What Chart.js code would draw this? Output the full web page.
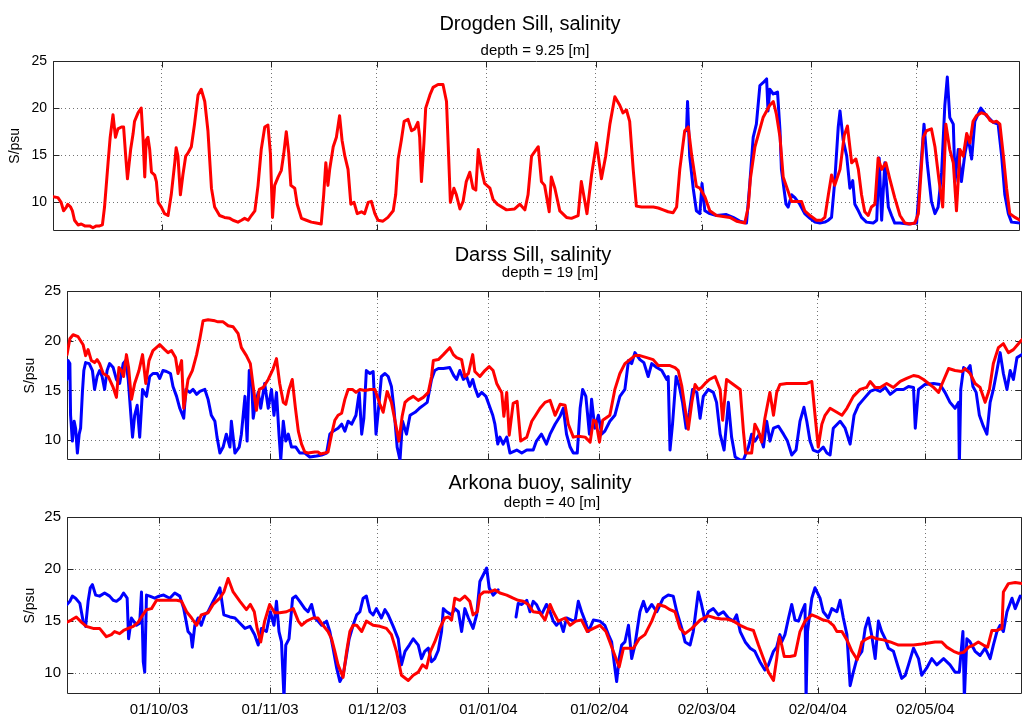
<!DOCTYPE html>
<html>
<head>
<meta charset="utf-8">
<title>Salinity</title>
<script src="https://cdn.jsdelivr.net/npm/chart.js@4/dist/chart.umd.min.js"></script>
<style>
  body { margin: 0; background: #fff; }
  #page { position: relative; width: 1028px; height: 715px; font-family: "Liberation Sans", Arial, sans-serif; color: #000; }
  #page canvas { position: absolute; left: 0; }
  .t, .s { position: absolute; transform: translateX(-50%); white-space: nowrap; z-index: 2; }
  .t { font-size: 20px; line-height: 20px; }
  .s { font-size: 15px; line-height: 15px; }
</style>
</head>
<body>
<div id="page">
  <canvas id="drogden" width="1028" height="245" style="top:0"></canvas>
  <canvas id="darss" width="1028" height="230" style="top:245px"></canvas>
  <canvas id="arkona" width="1028" height="240" style="top:475px"></canvas>
  <div class="t" style="left:530px;top:13px">Drogden Sill, salinity</div>
  <div class="s" style="left:535px;top:42px">depth = 9.25 [m]</div>
  <div class="t" style="left:533px;top:244px">Darss Sill, salinity</div>
  <div class="s" style="left:550px;top:264px">depth = 19 [m]</div>
  <div class="t" style="left:540px;top:472px">Arkona buoy, salinity</div>
  <div class="s" style="left:552px;top:494px">depth = 40 [m]</div>
</div>
<script>
// days counted from 01/09/03
const tickDays = [30, 61, 91, 122, 153, 183, 214, 244];
const tickLabels = ['01/10/03', '01/11/03', '01/12/03', '01/01/04', '01/02/04', '02/03/04', '02/04/04', '02/05/04'];
const salinityTicks = [10, 15, 20, 25];

// Drogden Sill (red = model, blue = observed)
const drogdenModelDay = [-0.8,0.6,1.5,2.2,3.0,3.4,4.2,4.7,5.3,6.3,7.2,8.2,9.6,10.5,11.5,12.4,13.2,13.8,14.8,15.4,16.2,16.9,17.6,18.6,19.2,19.8,20.3,21.2,21.9,22.3,23.3,24.2,24.7,25.2,25.6,26.1,26.6,27.1,28.0,28.5,29.0,29.9,30.8,31.8,32.7,33.7,34.1,34.6,35.3,36.0,36.8,37.4,38.4,39.3,40.3,41.2,42.2,43.1,44.1,45.0,46.4,47.8,49.3,50.2,51.6,52.6,53.5,54.5,55.4,56.4,57.3,58.2,59.2,60.1,60.8,61.4,62.0,63.0,63.9,64.6,65.3,66.0,66.6,67.7,68.4,69.6,71.0,72.4,73.8,75.2,75.9,76.5,77.1,77.6,78.6,79.5,80.4,81.1,81.9,82.8,83.6,84.5,85.4,86.6,87.5,88.5,89.4,90.4,91.3,92.7,94.1,95.6,96.3,97.0,97.9,98.7,99.8,100.8,101.7,102.6,103.1,103.6,104.3,104.8,106.0,106.9,108.3,109.7,110.7,111.2,111.8,112.8,113.5,114.5,115.4,116.3,117.3,118.2,119.0,119.7,120.6,121.5,123.0,123.9,125.1,127.7,130.0,131.5,132.9,133.8,134.8,136.7,137.6,138.5,139.8,140.4,141.4,142.8,144.7,146.1,148.0,148.9,149.9,150.5,151.8,153.2,154.6,155.8,157.0,158.4,159.8,160.7,161.7,162.6,163.6,164.5,166.0,167.4,169.3,170.7,172.1,173.5,174.9,175.9,176.8,178.2,179.2,180.1,181.5,182.5,183.9,185.3,187.2,189.1,191.0,192.9,195.2,196.2,196.8,198.1,200.4,201.4,202.3,203.3,204.2,205.2,206.1,207.0,208.5,209.9,211.3,212.2,213.7,215.5,217.0,217.9,218.9,219.8,220.7,222.2,223.4,224.3,225.5,226.7,227.4,228.3,229.2,230.2,231.1,232.1,233.0,234.0,235.2,236.3,237.7,239.2,240.6,242.0,243.4,244.4,245.8,246.7,248.1,249.1,250.3,251.3,252.2,253.3,254.3,255.2,256.2,257.1,258.1,259.0,259.9,260.9,262.3,263.7,264.7,265.6,266.6,267.5,268.5,269.4,270.3,271.8,273.2];
const drogdenModelSal = [10.6,10.5,10.0,9.1,9.5,9.8,9.5,9.1,8.1,7.6,7.7,7.5,7.5,7.3,7.5,7.5,7.6,9.5,14.2,16.9,19.3,16.9,17.8,18.0,18.0,14.9,12.5,15.6,17.3,18.6,19.5,20.0,16.9,12.7,16.6,16.9,15.6,13.2,12.9,12.2,10.0,9.5,8.8,8.6,10.8,14.2,15.8,14.9,10.8,12.9,14.9,15.2,15.9,18.3,21.4,22.0,20.7,17.6,11.5,9.5,8.6,8.4,8.3,8.1,7.9,8.1,8.3,8.1,8.6,9.1,11.8,15.6,18.0,18.2,15.2,8.4,11.8,12.7,13.4,15.2,17.5,15.2,11.8,11.5,9.8,8.3,8.1,7.9,7.8,7.7,10.8,14.2,11.8,13.5,15.9,16.9,19.2,16.6,14.9,13.5,9.8,10.0,8.8,9.0,8.8,10.0,10.1,8.8,8.1,8.0,8.4,9.1,10.8,14.6,16.6,18.6,18.8,17.6,17.8,18.5,16.9,12.2,16.3,20.0,21.4,22.2,22.5,22.5,20.7,15.9,10.0,11.5,10.8,9.3,10.1,12.2,13.2,11.5,11.3,15.6,13.5,12.0,11.5,10.3,9.8,9.2,9.3,9.8,9.2,10.8,14.9,15.9,12.2,11.8,9.0,12.7,11.5,9.1,8.4,8.3,8.6,12.2,10.1,8.8,12.9,16.3,12.5,14.9,18.3,21.2,20.3,19.5,19.8,18.6,13.5,9.6,9.5,9.5,9.5,9.4,9.2,9.0,8.9,9.5,13.5,17.6,18.0,15.2,11.7,11.5,10.6,9.1,8.6,8.5,8.4,8.0,7.8,9.5,12.5,15.9,19.0,19.7,20.3,20.7,19.3,16.9,12.7,11.7,10.1,10.1,10.1,9.1,8.6,8.1,8.1,8.4,10.8,12.9,11.8,13.5,17.1,18.1,14.2,14.6,13.5,10.8,9.0,8.6,9.5,9.8,14.7,13.5,14.2,12.5,10.5,8.6,7.8,7.7,7.8,8.8,16.9,17.6,17.8,15.9,12.2,9.5,18.3,15.6,14.2,9.1,15.6,14.9,17.3,16.3,18.6,19.2,19.5,19.3,18.7,18.5,18.6,18.3,14.9,11.5,8.8,8.4,8.1];
const drogdenObsDay = [178.7,179.0,179.4,179.6,180.6,181.5,182.5,183.1,183.9,185.3,187.2,190.0,191.9,193.8,195.7,196.6,197.6,198.5,199.5,200.4,201.4,201.8,202.3,203.3,204.5,205.2,205.6,206.3,206.9,207.5,208.5,209.4,210.8,212.2,213.7,215.1,216.5,217.9,218.9,219.8,220.7,221.7,222.2,223.1,224.1,225.0,225.8,226.4,227.4,228.3,229.7,231.6,232.6,233.3,234.0,234.9,235.9,236.8,237.7,239.2,241.5,243.9,245.0,246.0,246.9,248.1,249.1,250.0,251.0,251.9,252.6,253.3,254.3,254.8,255.7,256.6,257.6,258.5,259.5,260.4,262.1,263.7,265.6,267.0,268.0,268.9,269.9,270.8,273.2];
const drogdenObsSal = [17.6,20.7,16.9,14.9,11.5,9.1,8.8,12.0,9.1,8.8,8.6,8.7,8.4,8.0,7.8,11.8,16.9,18.3,22.4,22.7,23.1,19.7,22.0,21.5,21.7,17.6,13.5,11.5,9.8,9.5,10.8,10.5,9.8,8.8,8.3,7.9,7.8,7.9,8.1,8.4,12.2,18.0,19.7,16.6,14.9,11.5,12.3,9.8,9.1,8.4,7.9,7.8,8.1,14.7,8.1,14.2,9.5,8.6,7.8,7.8,7.7,7.8,13.2,18.3,14.2,10.1,8.8,9.5,13.2,20.3,23.3,19.0,18.3,12.2,15.6,12.2,15.2,16.9,14.6,18.6,20.0,19.2,18.5,18.3,14.9,10.8,8.8,7.9,7.8];

// Darss Sill
const darssModelDay = [4.3,5.1,6.0,7.4,8.8,9.5,10.2,11.1,12.0,12.7,13.4,14.4,15.8,17.2,18.1,18.8,19.5,20.1,20.9,21.5,22.3,23.2,24.4,25.4,26.3,27.2,28.3,30.2,31.6,32.5,33.5,34.6,35.3,36.3,36.9,38.1,39.3,40.5,41.4,42.3,43.7,45.6,46.5,47.9,49.3,50.7,52.1,53.0,54.4,55.5,56.3,57.2,58.0,59.1,60.5,61.9,62.8,63.7,64.7,65.4,66.3,67.2,68.1,68.9,69.8,70.7,71.6,73.5,74.4,75.1,76.3,77.2,78.2,79.1,80.0,81.0,81.9,82.8,84.0,85.0,86.1,87.5,88.9,90.3,91.7,92.6,93.7,94.9,96.3,97.0,97.9,98.7,99.6,101.0,102.4,103.8,105.2,106.1,106.6,108.0,109.4,111.2,112.2,113.1,114.5,115.4,116.4,117.6,118.2,119.6,121.0,122.2,123.3,124.3,125.2,125.7,126.3,127.1,127.8,128.9,130.0,131.0,132.7,134.1,135.0,136.4,137.8,139.2,140.6,142.0,143.4,144.3,145.7,147.1,149.0,150.4,151.3,152.0,153.0,153.9,155.9,157.3,158.7,160.1,161.5,162.9,164.3,166.2,168.0,169.4,170.8,172.7,174.1,175.0,176.0,176.9,177.8,178.8,179.7,180.6,181.5,182.5,183.7,185.3,186.7,187.4,188.5,190.4,192.3,193.2,193.8,195.5,196.4,197.4,198.3,199.2,200.6,201.6,202.5,203.4,205.3,207.2,209.0,210.9,212.3,213.2,214.1,215.1,216.0,217.4,219.3,220.7,222.1,223.9,225.8,227.6,228.6,230.0,231.4,233.2,235.1,237.0,238.8,240.7,242.1,243.5,244.9,246.3,247.7,248.6,250.5,252.3,254.2,255.1,256.5,257.9,259.3,260.7,261.9,263.0,264.4,265.8,267.2,268.6,270.0,271.0];
const darssModelSal = [18.6,20.2,20.6,20.4,19.6,18.5,19.1,18.0,17.8,18.1,17.7,16.7,16.4,15.3,14.3,17.3,17.0,16.4,18.6,17.3,14.1,15.7,17.0,18.6,15.7,18.0,19.0,19.6,19.1,18.8,19.0,18.3,16.7,18.0,13.2,16.1,17.0,18.6,20.2,22.0,22.1,22.0,21.9,21.9,21.5,21.4,20.7,19.3,18.5,17.7,15.4,13.0,15.1,15.3,16.1,17.2,18.2,15.7,13.8,13.6,15.1,16.1,13.2,10.9,9.6,8.8,8.7,8.8,8.8,8.6,8.7,8.8,10.6,12.0,12.5,12.7,14.1,15.1,15.1,14.8,15.1,15.0,15.1,15.1,13.6,12.8,14.9,13.8,11.2,9.9,12.4,13.8,14.1,14.4,14.0,14.3,14.8,16.4,18.0,18.1,18.6,19.3,18.6,18.3,18.1,16.4,16.7,18.6,16.9,16.4,17.0,17.4,17.0,15.7,15.1,14.8,12.4,14.8,10.5,13.7,13.9,9.9,10.3,11.9,12.4,13.2,13.8,14.0,12.5,13.6,13.5,11.6,10.3,10.4,10.3,9.8,12.0,11.9,9.8,12.0,12.5,15.1,16.7,17.7,18.1,18.5,18.5,18.3,18.1,17.5,17.5,17.5,17.3,17.0,15.4,13.2,11.1,13.8,15.6,15.1,15.3,15.7,16.1,16.4,15.1,12.0,16.1,15.6,15.1,10.9,8.7,8.7,11.6,10.9,9.8,12.2,14.8,12.5,14.8,15.6,15.7,15.7,15.7,15.7,15.9,12.5,9.3,11.6,12.5,13.2,12.8,12.5,13.2,14.4,15.1,15.3,15.9,15.3,15.3,15.7,15.3,15.9,16.2,16.5,16.4,16.1,15.7,15.3,14.8,15.6,17.2,17.0,16.9,17.2,16.7,15.7,15.3,13.8,15.1,17.7,19.3,19.7,18.8,19.1,19.7,20.1];
const darssObsDay = [4.3,4.6,5.1,5.3,5.8,6.3,6.7,7.2,7.7,8.1,8.6,9.0,9.5,10.5,11.4,12.0,12.7,13.4,14.1,14.8,15.5,16.2,17.2,18.1,19.0,20.0,20.7,21.4,22.0,22.6,23.2,23.9,24.6,25.4,26.5,27.4,28.3,29.5,30.2,31.1,32.1,33.2,33.9,34.9,35.8,36.9,37.5,38.6,39.5,40.5,41.4,42.8,43.7,44.6,45.6,46.2,47.0,47.9,48.8,49.8,50.2,51.2,52.4,53.0,54.0,54.6,55.2,55.8,56.3,57.0,57.7,58.4,59.5,60.5,61.4,62.1,62.8,63.5,64.0,64.7,65.4,66.1,67.0,68.2,69.3,70.7,72.1,74.0,75.4,76.8,77.7,78.6,80.0,81.0,81.9,82.8,83.8,85.0,85.9,86.6,87.2,87.9,88.9,89.8,90.6,91.2,92.1,93.1,94.0,94.9,95.6,96.5,97.3,98.0,99.1,100.1,101.5,102.7,103.8,104.9,106.1,107.0,108.0,109.4,111.2,112.3,113.1,114.0,115.0,115.9,116.8,117.6,118.2,119.1,120.1,121.3,122.2,123.2,123.8,124.6,125.2,126.1,127.1,128.0,129.9,131.3,132.7,134.5,135.4,136.8,138.2,139.2,140.6,142.0,142.9,143.8,144.8,145.7,146.8,147.6,148.3,149.2,150.2,150.8,151.7,152.7,153.6,154.5,155.9,157.3,158.7,160.1,161.1,162.0,162.9,164.3,165.4,166.6,167.6,169.0,170.4,171.8,172.2,172.7,173.4,174.4,175.3,176.2,177.2,178.1,179.0,180.2,181.1,182.0,183.4,184.8,185.7,186.7,187.8,189.0,189.9,190.9,192.3,193.2,194.6,195.5,196.4,197.7,198.8,199.7,200.6,201.6,203.0,204.4,205.5,206.7,207.9,209.0,210.1,210.9,211.8,212.7,214.1,215.5,216.5,217.4,218.3,220.2,221.6,223.0,224.1,225.3,226.7,228.6,230.0,231.4,232.8,234.2,236.0,237.9,239.3,240.7,241.2,242.1,243.9,246.3,248.1,249.5,250.9,252.3,253.3,253.5,253.9,254.7,255.6,256.5,257.3,258.2,259.1,260.2,261.2,262.1,263.0,264.0,264.9,265.8,266.8,267.7,268.6,269.6,271.0];
const darssObsSal = [16.1,18.0,17.7,12.5,9.9,11.9,11.2,8.7,10.6,11.2,14.8,17.0,17.8,17.7,17.0,15.1,16.4,17.0,16.4,15.1,17.0,17.7,17.3,16.1,15.7,17.7,18.0,16.1,13.2,10.3,12.5,13.5,10.3,15.1,14.4,16.4,16.7,16.7,16.2,17.0,16.9,16.7,15.4,14.4,13.2,12.2,15.1,14.8,15.1,14.6,14.9,15.1,14.1,12.5,11.9,10.3,8.7,9.3,10.6,9.3,11.9,8.7,9.3,10.6,14.4,9.9,17.0,16.4,12.2,13.8,14.8,13.2,15.7,13.2,15.1,12.5,14.8,10.6,8.0,11.9,9.9,10.6,9.3,9.3,8.7,8.7,8.3,8.4,8.5,8.7,10.6,10.9,11.2,11.6,10.9,11.9,11.6,12.5,14.8,10.6,12.2,17.0,16.7,16.9,10.6,12.8,16.4,16.7,16.4,15.4,13.2,9.3,8.0,11.9,10.6,12.5,12.8,13.2,13.5,13.8,16.1,17.0,17.2,17.2,17.3,16.5,16.1,17.0,16.1,16.4,15.4,16.1,15.3,14.4,14.8,14.4,13.5,12.5,11.6,9.6,10.3,9.6,10.3,8.7,9.0,8.7,9.0,9.0,9.9,10.6,9.6,10.6,11.6,12.4,13.2,10.6,9.3,8.7,8.7,13.2,15.1,14.4,10.6,14.1,11.2,12.5,10.6,10.9,11.9,12.5,14.4,15.1,18.0,17.7,18.8,18.1,17.8,16.4,17.7,17.3,17.0,16.1,16.4,9.0,11.6,16.4,15.4,13.8,11.2,12.8,15.1,14.8,12.2,14.4,15.1,14.8,13.8,10.6,9.0,13.8,10.3,8.3,8.0,8.0,9.3,10.6,9.9,10.6,9.3,11.9,9.9,11.2,11.4,10.6,9.9,8.5,9.0,11.9,13.3,11.9,9.9,9.0,8.8,9.3,8.7,8.5,11.2,11.9,11.2,9.6,12.5,13.5,14.1,14.9,15.1,14.9,15.3,14.6,15.1,15.1,15.4,15.3,11.2,15.1,15.6,15.7,15.6,14.8,13.8,13.2,13.8,7.4,15.1,17.3,17.0,17.5,15.4,14.8,12.5,11.4,10.6,13.8,15.1,17.0,18.8,16.7,15.1,17.0,16.1,18.3,18.6];

// Arkona buoy
const arkonaModelDay = [4.3,5.5,6.9,8.3,9.7,11.6,13.4,15.3,16.7,17.6,19.0,20.1,21.4,22.8,24.2,25.1,26.5,27.9,29.3,31.1,33.0,34.9,36.3,37.7,39.1,40.5,41.8,43.7,45.1,47.0,48.1,49.3,50.7,52.6,54.4,55.5,56.6,57.4,58.4,59.5,60.9,62.3,63.7,65.6,67.5,68.9,69.8,71.2,73.0,74.4,75.8,77.2,78.2,79.1,80.0,81.4,82.4,83.3,84.2,85.2,86.6,87.9,89.8,91.7,93.5,94.9,96.3,97.7,99.6,101.0,102.4,103.6,104.7,105.8,107.0,108.4,109.8,110.8,111.7,112.6,114.0,115.4,116.8,117.7,118.9,119.6,120.7,122.4,123.8,125.2,127.1,128.9,130.3,131.7,133.1,134.5,136.4,137.8,139.2,140.1,141.5,143.4,144.8,146.4,148.0,149.6,151.3,153.1,154.8,155.9,157.3,158.5,159.7,161.1,162.5,164.1,165.7,167.6,169.4,171.3,172.7,174.1,175.5,176.9,178.8,181.1,183.4,185.3,187.1,188.5,190.4,192.3,194.1,196.0,197.4,198.8,200.2,201.6,202.5,203.2,203.9,204.6,206.2,207.6,209.0,210.4,212.3,213.7,215.5,216.9,218.3,219.3,220.7,222.1,223.5,225.0,226.3,227.6,229.0,230.4,232.3,234.2,236.5,238.4,240.7,243.0,244.9,246.7,248.6,250.0,251.9,253.3,254.7,256.1,257.5,258.8,260.2,261.4,262.6,264.0,265.4,265.8,267.2,269.1,271.0];
const arkonaModelSal = [14.9,15.1,15.4,14.9,14.5,14.3,14.3,13.5,13.7,14.0,13.8,14.1,14.3,14.5,14.9,15.4,16.1,16.2,17.0,17.0,17.0,17.0,16.9,15.9,15.3,14.6,15.6,15.8,16.6,17.2,17.8,19.1,17.8,16.9,16.1,16.6,15.9,14.3,13.0,15.0,16.6,15.8,15.8,15.9,16.2,15.0,14.6,15.0,15.3,15.3,14.6,14.0,13.3,12.1,10.8,9.6,12.1,14.0,14.6,14.6,14.0,15.0,14.6,14.5,14.3,13.7,12.1,9.8,9.3,9.8,10.1,10.8,10.5,12.1,13.0,14.3,15.3,15.4,15.1,17.2,17.0,17.4,16.9,15.6,15.9,17.5,17.8,17.8,18.0,17.7,17.5,17.2,17.0,16.9,16.6,15.9,15.8,15.1,16.6,15.9,15.0,15.3,14.6,15.0,15.1,14.0,14.3,14.6,14.0,13.0,11.7,10.6,12.4,12.4,12.4,13.3,13.7,15.0,16.6,16.4,16.1,15.9,14.3,13.8,14.3,15.1,15.5,15.3,15.2,15.2,15.0,14.6,14.3,14.1,12.7,11.4,10.1,9.3,11.4,13.5,12.7,11.6,11.6,11.7,14.0,15.0,15.6,15.4,15.1,15.0,14.6,14.0,14.0,13.2,12.1,11.3,13.0,13.3,13.5,13.3,13.2,13.0,12.7,12.7,12.7,12.8,12.9,13.0,13.0,12.5,12.1,11.9,12.0,12.5,12.7,13.0,12.7,12.5,14.1,14.1,14.3,17.8,18.6,18.7,18.6];
const arkonaObsDay = [4.3,5.1,5.8,6.7,7.9,8.8,9.5,10.2,10.8,11.4,12.3,13.4,14.8,16.2,17.2,18.1,19.2,20.1,21.1,21.5,22.3,23.7,24.6,25.1,25.6,26.0,26.5,27.4,28.8,30.0,31.3,33.0,34.4,35.8,36.9,38.1,38.9,39.3,40.0,40.9,41.8,42.8,43.7,45.1,46.5,47.0,48.1,49.8,51.2,52.6,54.0,55.4,56.7,57.7,58.6,60.0,61.1,62.1,62.8,63.5,64.2,64.9,65.4,66.3,67.3,68.2,69.3,70.7,71.6,72.6,73.5,74.4,75.4,76.8,77.7,78.6,79.6,80.5,81.4,82.2,83.1,84.2,85.2,86.1,87.0,87.9,88.9,89.8,90.7,92.1,93.1,94.0,95.4,96.8,97.7,98.7,99.9,101.0,102.4,103.3,104.2,105.2,106.1,107.0,108.0,108.9,109.4,110.3,111.7,112.6,113.6,114.5,115.4,116.4,117.7,118.7,119.6,120.5,121.5,122.2,123.3,124.7,127.0,129.7,130.3,131.3,132.7,133.6,134.5,135.4,136.8,138.2,139.2,140.1,141.0,142.0,142.9,143.8,145.2,146.2,147.1,148.0,149.0,149.9,151.3,153.1,154.5,155.5,156.4,157.3,157.8,158.5,159.2,160.1,161.1,162.0,162.9,164.3,165.3,166.2,167.6,169.0,170.8,172.2,173.6,174.6,176.0,176.9,178.3,179.2,180.6,181.5,182.5,183.4,184.8,186.2,187.6,189.0,190.4,191.3,192.3,193.7,195.1,196.4,197.8,199.2,200.2,201.6,202.5,203.4,203.9,204.8,205.8,206.7,207.6,208.6,209.5,210.4,210.7,211.1,212.3,213.2,214.6,215.5,216.9,217.9,219.3,220.2,221.1,222.1,223.0,223.9,224.9,226.3,227.2,228.1,229.0,230.0,230.9,231.8,232.8,233.7,235.1,236.5,237.4,238.4,239.3,240.7,242.1,243.0,244.4,245.8,247.2,249.1,250.9,252.3,253.5,254.5,254.9,255.6,256.5,257.9,259.3,260.7,262.1,263.0,264.0,264.9,265.8,266.8,268.2,269.1,270.5];
const arkonaObsSal = [16.6,16.9,17.4,17.2,16.7,15.0,14.5,16.9,18.2,18.5,17.5,17.4,17.7,17.4,17.0,16.9,17.2,17.7,17.2,13.3,15.3,14.6,14.8,17.8,11.1,10.1,17.5,17.4,17.2,17.4,17.5,17.2,17.7,17.4,16.2,14.0,13.7,12.5,14.6,15.3,14.6,15.6,15.9,16.9,17.8,18.2,15.6,15.4,15.3,14.8,14.3,14.5,13.7,12.7,14.3,14.0,15.9,14.6,16.9,14.0,13.0,7.6,12.7,13.3,17.2,17.4,16.9,16.2,15.9,16.6,15.3,15.0,14.6,15.0,14.0,12.4,10.5,9.2,9.8,11.4,13.3,14.6,15.6,15.9,17.2,17.4,15.9,15.6,16.2,15.3,16.1,15.6,14.5,13.3,10.8,12.1,12.7,13.3,12.7,11.4,12.1,12.4,11.1,11.4,12.2,14.0,16.2,15.9,15.6,16.2,15.9,14.0,16.2,15.3,14.3,15.6,18.8,19.4,20.1,18.2,17.5,18.0,null,15.4,16.7,16.6,17.0,15.9,16.9,16.6,15.6,16.6,15.9,15.0,14.6,15.0,14.0,15.3,15.1,15.0,16.9,15.9,15.0,14.0,15.1,15.0,14.6,13.7,13.0,10.5,9.2,11.4,12.7,13.0,14.6,11.4,12.7,15.9,16.9,15.9,16.6,15.9,17.2,17.5,17.4,15.9,14.3,13.0,12.7,14.0,17.8,16.6,15.0,15.9,16.2,15.6,15.9,15.3,15.0,15.6,14.0,13.0,12.4,12.1,11.1,10.3,10.8,12.1,12.5,13.7,13.0,13.7,15.3,16.6,15.1,15.0,15.9,16.6,7.6,14.0,17.2,18.2,17.2,15.9,15.3,16.2,15.9,17.0,15.3,13.7,8.8,10.1,11.4,12.1,14.3,15.3,13.7,11.4,15.0,14.0,13.3,12.4,12.1,10.5,9.5,9.8,10.8,12.4,11.4,9.8,10.5,11.4,10.8,11.4,10.8,10.1,10.1,14.0,7.6,13.3,13.0,12.1,11.7,12.4,11.4,12.7,14.0,14.6,14.0,15.9,17.2,16.2,17.4];

function toPoints(days, sal) {
    return days.map((d, i) => ({ x: d, y: sal[i] }));
}

// MATLAB style box with inward ticks
const matlabBox = {
    id: 'matlabBox',
    beforeDatasetsDraw(chart) {
        const { ctx, chartArea: a, scales } = chart;
        const l = Math.round(a.left) + 0.5, r = Math.round(a.right) - 0.5;
        const t = Math.round(a.top) + 0.5, b = Math.round(a.bottom) - 0.5;
        ctx.save();
        ctx.strokeStyle = '#262626';
        ctx.lineWidth = 1;
        ctx.setLineDash([]);
        ctx.beginPath();
        ctx.rect(l, t, r - l, b - t);
        scales.x.ticks.forEach(tk => {
            const px = Math.round(scales.x.getPixelForValue(tk.value)) + 0.5;
            ctx.moveTo(px, b); ctx.lineTo(px, b - 6);
            ctx.moveTo(px, t); ctx.lineTo(px, t + 6);
        });
        scales.y.ticks.forEach(tk => {
            const py = Math.round(scales.y.getPixelForValue(tk.value)) + 0.5;
            ctx.moveTo(l, py); ctx.lineTo(l + 6, py);
            ctx.moveTo(r, py); ctx.lineTo(r - 6, py);
        });
        ctx.stroke();
        ctx.restore();
    }
};

function makePanel(id, p) {
    const family = '"Liberation Sans", Arial, sans-serif';
    const tickFont = { family: family, size: p.tickSize };
    const gridOpts = { color: 'rgba(0,0,0,0.55)', lineWidth: 1, drawTicks: false, borderDash: [1, 3] };
    return new Chart(document.getElementById(id).getContext('2d'), {
        type: 'line',
        data: {
            datasets: [
                { label: 'model', data: toPoints(p.modelDay, p.modelSal), borderColor: '#ff0000', borderWidth: 3, order: 0 },
                { label: 'observed', data: toPoints(p.obsDay, p.obsSal), borderColor: '#0000ff', borderWidth: 3, order: 1 },
            ],
        },
        options: {
            responsive: false,
            animation: false,
            devicePixelRatio: 1,
            spanGaps: false,
            elements: { point: { radius: 0 }, line: { tension: 0, borderJoinStyle: 'round', borderCapStyle: 'round' } },
            layout: { padding: p.padding },
            plugins: { legend: { display: false }, tooltip: { enabled: false }, title: { display: false } },
            scales: {
                x: {
                    type: 'linear',
                    min: p.xMin,
                    max: p.xMax,
                    afterBuildTicks: axis => { axis.ticks = tickDays.map(v => ({ value: v })); },
                    afterFit: axis => { axis.height = p.xHeight; },
                    grid: gridOpts,
                    border: { display: false, dash: [1, 3] },
                    ticks: {
                        display: p.showDates,
                        autoSkip: false,
                        maxRotation: 0,
                        padding: 7,
                        color: '#000',
                        font: { family: family, size: 15 },
                        callback: (value, index) => tickLabels[index],
                    },
                },
                y: {
                    min: p.yMin,
                    max: 25,
                    afterBuildTicks: axis => { axis.ticks = salinityTicks.map(v => ({ value: v })); },
                    afterFit: axis => { axis.width = p.yWidth; },
                    grid: gridOpts,
                    border: { display: false, dash: [1, 3] },
                    ticks: { padding: 6, color: '#000', font: tickFont },
                    title: { display: true, text: 'S/psu', color: '#000', font: { family: family, size: 14 }, padding: { top: p.titlePad, bottom: 0 } },
                },
            },
        },
        plugins: [matlabBox],
    });
}

makePanel('drogden', {
    modelDay: drogdenModelDay, modelSal: drogdenModelSal, obsDay: drogdenObsDay, obsSal: drogdenObsSal,
    xMin: -0.8, xMax: 273.2, yMin: 7, yWidth: 53, xHeight: 0, showDates: false, titlePad: 7, tickSize: 14,
    padding: { left: 0, right: 8, top: 61, bottom: 7 },
});
makePanel('darss', {
    modelDay: darssModelDay, modelSal: darssModelSal, obsDay: darssObsDay, obsSal: darssObsSal,
    xMin: 4.3, xMax: 271.0, yMin: 8, yWidth: 67, xHeight: 0, showDates: false, titlePad: 22, tickSize: 15,
    padding: { left: 0, right: 6, top: 46, bottom: 7 },
});
makePanel('arkona', {
    modelDay: arkonaModelDay, modelSal: arkonaModelSal, obsDay: arkonaObsDay, obsSal: arkonaObsSal,
    xMin: 4.3, xMax: 271.0, yMin: 8, yWidth: 67, xHeight: 21, showDates: true, titlePad: 22, tickSize: 15,
    padding: { left: 0, right: 6, top: 42, bottom: 0 },
});
</script>
</body>
</html>
